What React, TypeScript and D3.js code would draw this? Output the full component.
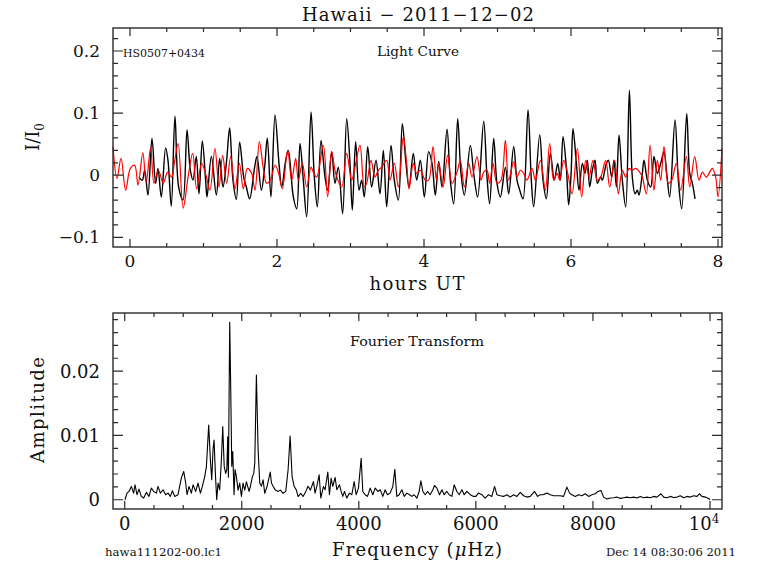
import React from "react";
import * as d3 from "d3";

const FONT = "'DejaVu Serif', 'Liberation Serif', serif";

// ---- Light curve (hours UT, I/I0) ----
const blackCurve: [number, number][] = [
  [0.122, -0.003], [0.168, -0.008], [0.2, 0.008], [0.245, -0.032], [0.299, 0.059], [0.349, -0.013], [0.381, 0.011],
  [0.426, -0.035], [0.485, 0.044], [0.517, 0.024], [0.562, -0.05], [0.612, 0.095], [0.662, -0.019], [0.721, -0.04],
  [0.776, 0.073], [0.821, 0.008], [0.857, -0.008], [0.902, 0.03], [0.939, -0.03], [0.984, 0.055], [1.029, -0.008],
  [1.048, -0.035], [1.107, 0.03], [1.175, -0.032], [1.22, 0.027], [1.265, -0.019], [1.311, 0.019], [1.356, 0.076],
  [1.401, -0.008], [1.447, -0.039], [1.492, 0.053], [1.547, -0.003], [1.583, -0.019], [1.628, -0.038], [1.696, 0.013],
  [1.728, 0.03], [1.787, -0.024], [1.832, 0.013], [1.868, 0.06],
  [1.918, -0.035], [1.973, 0.097], [2.027, 0.019], [2.064, -0.019], [2.118, 0.024], [2.154, 0.04], [2.222, -0.035],
  [2.268, -0.054], [2.313, 0.051], [2.358, -0.008], [2.404, -0.067], [2.463, 0.102], [2.508, -0.003], [2.549, -0.051],
  [2.599, 0.056], [2.653, -0.003], [2.689, -0.024], [2.744, 0.038], [2.789, -0.013], [2.834, 0.013], [2.893, -0.062],
  [2.948, 0.091], [2.993, 0.019], [3.025, -0.056], [3.07, 0.054], [3.116, -0.024], [3.152, -0.008], [3.188, -0.035],
  [3.234, 0.046], [3.288, -0.019], [3.347, 0.024], [3.401, -0.03], [3.447, 0.04], [3.492, -0.051], [3.551, 0.048],
  [3.596, -0.008], [3.651, -0.04], [3.705, 0.083], [3.751, 0.024], [3.796, -0.019], [3.855, 0.035], [3.9, -0.008],
  [3.95, 0.024], [4.005, -0.035], [4.063, 0.038], [4.109, 0.019], [4.154, -0.032], [4.2, 0.022], [4.245, -0.019],
  [4.313, 0.074], [4.358, -0.008], [4.404, -0.046], [4.458, 0.091], [4.503, 0.003], [4.549, -0.032], [4.63, 0.048],
  [4.676, 0.003], [4.73, -0.035], [4.812, 0.087], [4.857, -0.003], [4.893, -0.046], [4.948, 0.059], [4.993, -0.013],
  [5.039, -0.035], [5.107, 0.013], [5.152, -0.03], [5.22, 0.046], [5.265, -0.008], [5.302, -0.024], [5.347, -0.038],
  [5.415, 0.105], [5.46, -0.008], [5.492, -0.051], [5.574, 0.065], [5.619, -0.008], [5.664, -0.038], [5.719, 0.035],
  [5.773, -0.008], [5.819, 0.019], [5.855, -0.008], [5.891, 0.062], [5.936, 0.013], [5.968, -0.048], [6.0, 0.0],
  [6.027, 0.075], [6.073, 0.019], [6.109, -0.024], [6.154, 0.019], [6.19, 0.003], [6.222, 0.024], [6.254, -0.019],
  [6.29, 0.008], [6.327, 0.024], [6.358, -0.013], [6.404, -0.003], [6.426, -0.008], [6.481, 0.019], [6.508, 0.024],
  [6.553, -0.003], [6.585, 0.024], [6.617, -0.019], [6.653, 0.065], [6.698, -0.008], [6.744, -0.051], [6.794, 0.137],
  [6.834, -0.003], [6.871, -0.03], [6.902, -0.024], [6.925, -0.032], [6.97, 0.003], [6.993, 0.024], [7.039, -0.008],
  [7.084, -0.019], [7.129, 0.03], [7.175, 0.003], [7.22, 0.019], [7.265, 0.038], [7.302, 0.003], [7.342, -0.035],
  [7.415, 0.089], [7.46, -0.008], [7.506, -0.054], [7.574, 0.099], [7.615, 0.003], [7.651, -0.013], [7.687, -0.038],
];

const redCurve: [number, number][] = [
  [-0.231, 0.046], [-0.177, -0.005], [-0.122, 0.027], [-0.059, -0.024], [0.005, 0.011], [0.064, 0.016], [0.109, -0.016],
  [0.175, 0.036], [0.22, -0.012], [0.281, 0.044], [0.327, -0.013], [0.386, 0.008], [0.453, -0.013], [0.512, 0.005],
  [0.567, -0.003], [0.603, 0.019], [0.655, 0.051], [0.723, -0.053], [0.794, 0.0], [0.853, 0.035], [0.907, -0.022],
  [0.975, 0.019], [1.034, 0.0], [1.088, -0.024], [1.156, 0.043], [1.211, -0.019], [1.261, 0.032], [1.315, -0.013],
  [1.37, 0.03], [1.429, -0.022], [1.488, 0.019], [1.542, -0.022], [1.596, 0.011], [1.655, 0.003], [1.701, -0.024],
  [1.76, 0.054], [1.814, 0.011], [1.859, -0.013],
  [1.909, -0.008], [1.973, 0.016], [2.018, 0.005], [2.073, -0.022], [2.145, 0.04], [2.2, -0.008], [2.254, 0.027],
  [2.29, -0.008], [2.345, 0.019], [2.404, -0.019], [2.463, 0.013], [2.494, 0.005], [2.54, -0.003], [2.63, 0.048],
  [2.689, -0.035], [2.744, 0.038], [2.798, 0.003], [2.88, -0.019], [2.948, 0.035], [3.016, -0.008], [3.061, 0.013],
  [3.129, 0.048], [3.188, -0.019], [3.22, -0.013], [3.279, 0.024], [3.333, -0.003], [3.379, 0.008], [3.424, 0.013],
  [3.492, 0.024], [3.537, -0.008], [3.596, 0.019], [3.651, -0.019], [3.719, 0.062], [3.764, 0.019], [3.796, -0.022],
  [3.855, 0.019], [3.9, 0.003],
  [3.95, 0.008], [4.018, -0.008], [4.063, -0.008], [4.122, 0.046], [4.168, -0.008], [4.2, 0.019], [4.259, -0.019],
  [4.322, 0.032], [4.381, -0.013], [4.449, 0.005], [4.494, 0.024], [4.549, -0.019], [4.608, 0.019], [4.653, -0.003],
  [4.721, 0.03], [4.776, -0.008], [4.812, 0.005], [4.857, 0.008], [4.893, -0.013], [4.939, 0.019], [4.993, -0.013],
  [5.048, -0.008], [5.107, 0.056], [5.152, -0.008], [5.22, 0.022], [5.265, -0.003], [5.311, 0.008], [5.356, 0.003],
  [5.401, -0.008], [5.469, 0.011], [5.515, -0.008], [5.583, 0.024], [5.651, -0.024], [5.71, 0.051], [5.764, -0.008],
  [5.81, 0.003], [5.846, -0.008], [5.9, 0.024], [5.955, 0.003], [6.014, -0.03],
  [6.086, 0.043], [6.145, -0.035], [6.2, 0.024], [6.245, -0.003], [6.299, 0.024], [6.358, -0.008], [6.404, -0.003],
  [6.472, 0.024], [6.526, -0.019], [6.594, 0.024], [6.644, -0.03], [6.698, 0.008], [6.744, -0.003], [6.789, 0.011],
  [6.834, 0.008], [6.88, 0.011], [6.934, 0.005], [6.97, -0.003], [7.025, -0.03], [7.075, 0.048], [7.129, -0.024],
  [7.175, 0.024], [7.22, -0.008], [7.265, 0.046], [7.324, -0.013], [7.37, -0.008], [7.433, 0.019], [7.492, -0.024],
  [7.569, 0.03], [7.615, -0.019], [7.683, 0.03], [7.741, -0.008], [7.787, 0.005], [7.841, -0.003], [7.9, 0.008],
  [7.923, 0.011], [7.968, -0.003], [8.0, -0.035], [8.054, 0.043],
];

// ---- Fourier transform (frequency µHz, amplitude) ----
const spectrum: [number, number][] = [
  [5, 0], [39, 0.00103], [74, 0.00129], [113, 0.00207], [153, 0.00103], [176, 0.00233], [210, 0.00078], [244, 0.00165],
  [284, 0.00052], [324, 0.00026], [370, 0.00114], [415, 0.00052], [455, 0.00181], [495, 0.00129], [541, 0.00103],
  [569, 0.00207], [609, 0.00103], [655, 0.00155], [700, 0.00078], [740, 0.00103], [780, 0.00052], [815, 0.0014],
  [854, 0.00052], [911, 0.00078], [968, 0.0034], [1008, 0.0044], [1042, 0.0026], [1065, 0.00078], [1099, 0.00207],
  [1139, 0.00103], [1168, 0.00233], [1213, 0.00129], [1253, 0.0026], [1293, 0.00103], [1327, 0.00207], [1367, 0.0036],
  [1396, 0.0052], [1435, 0.0116], [1464, 0.0062], [1487, 0.0031], [1509, 0.0078], [1527, 0.0093], [1549, 0.0041],
  [1572, 0.0], [1595, 0.0026], [1623, 0.00155], [1652, 0.0062], [1675, 0.0114], [1700, 0.0052], [1725, 0.0041],
  [1745, 0.0047], [1760, 0.0098], [1772, 0.0035], [1794, 0.0276], [1811, 0.0176], [1829, 0.0052], [1846, 0.0075],
  [1868, 0.00078], [1885, 0.0047], [1908, 0.0036], [1937, 0.0015], [1965, 0.0026], [1994, 0.00052], [2022, 0.0026],
  [2051, 0.0015], [2079, 0.0028], [2125, 0.0013], [2148, 0.0021], [2182, 0.0036], [2205, 0.0041], [2222, 0.0057],
  [2250, 0.0194], [2279, 0.0078], [2307, 0.0026], [2336, 0.0021], [2364, 0.0031], [2393, 0.001], [2433, 0.0021],
  [2487, 0.0043], [2507, 0.0026], [2535, 0.0021], [2575, 0.0015], [2621, 0.0013], [2661, 0.0015], [2706, 0.001],
  [2752, 0.0013], [2792, 0.0047], [2826, 0.0099], [2860, 0.0036], [2894, 0.0021], [2934, 0.0015], [2962, 0.0005],
  [3008, 0.001], [3048, 0.0005], [3094, 0.0013], [3133, 0.0021], [3173, 0.0015], [3225, 0.00284], [3253, 0.00103],
  [3282, 0.00207], [3322, 0.00388], [3350, 0.00026], [3396, 0.00207], [3424, 0.00155], [3470, 0.00429], [3498, 0.00078],
  [3527, 0.00336], [3555, 0.00207], [3595, 0.00346], [3624, 0.00155], [3669, 0.00233], [3698, 0.00129], [3726, 0.00052],
  [3755, 0.00129], [3795, 0.00026], [3840, 0.00103], [3880, 0.00078], [3920, 0.00284], [3954, 0.00078], [3994, 0.00181],
  [4040, 0.00646], [4068, 0.00129], [4108, 0.00078], [4148, 0.00052], [4194, 0.00181], [4239, 0.00078], [4279, 0.00181],
  [4325, 0.00129], [4365, 0.00155], [4410, 0.00052], [4450, 0.00155], [4490, 0.00078], [4535, 0.00103], [4581, 0.00207],
  [4615, 0.00475], [4649, 0.00052], [4689, 0.00078], [4735, 0.00155], [4775, 0.00052], [4820, 0.00103], [4866, 0.00078],
  [4906, 0.00052], [4946, 0.00078], [4991, 0.00026], [5031, 0.00129], [5060, 0.00295], [5094, 0.00129], [5134, 0.00078],
  [5174, 0.00129], [5219, 0.00078], [5265, 0.00155], [5293, 0.00222], [5333, 0.00181], [5379, 0.00078], [5419, 0.00155],
  [5458, 0.00078], [5504, 0.00129], [5544, 0.00078], [5590, 0.00052], [5629, 0.00233], [5675, 0.00129], [5715, 0.00078],
  [5761, 0.00155], [5800, 0.00078], [5846, 0.00129], [5903, 0.00078], [5960, 0.00052], [6000, 0.00052], [6045, 0.00103],
  [6102, 0.00078], [6159, 0.00026], [6216, 0.00078], [6273, 0.00052], [6319, 0.00207], [6359, 0.00078], [6416, 0.00062],
  [6473, 0.00052], [6530, 0.00078], [6587, 0.00041], [6644, 0.00078], [6701, 0.00052], [6758, 0.00114], [6815, 0.00062],
  [6872, 0.00041], [6929, 0.00052], [7003, 0.00129], [7054, 0.00052], [7100, 0.00078], [7145, 0.00078], [7213, 0.00103],
  [7271, 0.00078], [7327, 0.00062], [7384, 0.00062], [7441, 0.00062], [7498, 0.00052], [7555, 0.00196], [7601, 0.00103],
  [7641, 0.00078], [7698, 0.00052], [7755, 0.00078], [7812, 0.00062], [7869, 0.00093], [7926, 0.00052], [7983, 0.00078],
  [8040, 0.00093], [8085, 0.00129], [8137, 0.00145], [8182, 0.00041], [8239, 0.0001], [8296, 0.00026], [8353, 0.00031],
  [8410, 0.00041], [8467, 0.00021], [8524, 0.00031], [8581, 0.00041], [8638, 0.00031], [8695, 0.00041], [8752, 0.00026],
  [8809, 0.00052], [8866, 0.00031], [8923, 0.00041], [8980, 0.00031], [9037, 0.00052], [9094, 0.00041], [9162, 0.00093],
  [9208, 0.00041], [9265, 0.00031], [9322, 0.00052], [9379, 0.00036], [9436, 0.00041], [9493, 0.00062], [9550, 0.00031],
  [9607, 0.00052], [9664, 0.00041], [9721, 0.00062], [9778, 0.00052], [9818, 0.00093], [9863, 0.00052], [9920, 0.00041],
  [9977, 0.00021], [10000, 0],
];

// ---- ticks ----
const lcXMajor = [0, 2, 4, 6, 8];
const lcXLabels = ["0", "2", "4", "6", "8"];
const lcYMajor = [-0.1, 0, 0.1, 0.2];
const lcYLabels = ["\u22120.1", "0", "0.1", "0.2"];
const ftXMajor = [0, 2000, 4000, 6000, 8000, 10000];
const ftXLabels = ["0", "2000", "4000", "6000", "8000", "10^4"];
const ftYMajor = [0, 0.01, 0.02];
const ftYLabels = ["0", "0.01", "0.02"];

const FRAME = "#2a2a2a";

type Sc = d3.ScaleLinear<number, number>;

function Frame({ x, y, xMinor, yMinor, xMajor, yMajor }: { x: Sc; y: Sc; xMinor: number[]; yMinor: number[]; xMajor: number[]; yMajor: number[] }) {
  const [x0, x1] = x.range();
  const [y0, y1] = y.range();
  const inX = (v: number) => v >= Math.min(...x.domain()) && v <= Math.max(...x.domain());
  const inY = (v: number) => v >= Math.min(...y.domain()) && v <= Math.max(...y.domain());
  const segs: string[] = [];
  xMinor.filter(inX).forEach((v) => {
    const px = x(v);
    const len = xMajor.some((m) => Math.abs(m - v) < 1e-9) ? 8 : 4;
    segs.push(`M${px},${y0}V${y0 - len}M${px},${y1}V${y1 + len}`);
  });
  yMinor.filter(inY).forEach((v) => {
    const py = y(v);
    const len = yMajor.some((m) => Math.abs(m - v) < 1e-9) ? 10 : 5;
    segs.push(`M${x0},${py}H${x0 + len}M${x1},${py}H${x1 - len}`);
  });
  return (
    <g>
      <path d={segs.join("")} stroke={FRAME} strokeWidth={1.2} fill="none" />
      <rect x={x0} y={y1} width={x1 - x0} height={y0 - y1} fill="none" stroke={FRAME} strokeWidth={1.4} />
    </g>
  );
}

export default function App() {
  const lcX = d3.scaleLinear().domain([-0.231, 8.054]).range([113, 722]);
  const lcY = d3.scaleLinear().domain([-0.1156, 0.237]).range([247, 28]);
  const ftX = d3.scaleLinear().domain([-200, 10205]).range([113, 722]);
  const ftY = d3.scaleLinear().domain([-0.00144, 0.02904]).range([509, 313]);

  const lcLine = d3
    .line<[number, number]>()
    .x((d) => lcX(d[0]))
    .y((d) => lcY(d[1]))
    .curve(d3.curveCatmullRom.alpha(0.5));
  const ftLine = d3.line<[number, number]>().x((d) => ftX(d[0])).y((d) => ftY(d[1]));

  const lcXMinor = d3.range(0, 8.01, 0.5);
  const lcYMinor = d3.range(-0.1, 0.2201, 0.02).map((v) => Math.round(v * 1000) / 1000);
  const ftXMinor = d3.range(0, 10001, 500);
  const ftYMinor = d3.range(0, 0.0281, 0.002).map((v) => Math.round(v * 10000) / 10000);

  const txt = { fontFamily: FONT, fill: "#111" } as const;

  return (
    <svg width={768} height={574} style={{ position: "absolute", left: 0, top: 0, background: "#fff" }}>
      <rect width={768} height={574} fill="#fff" />
      <text x={418} y={21} textAnchor="middle" fontSize={18} textLength={232} lengthAdjust="spacing" {...txt}>
        Hawaii {"\u2212"} 2011{"\u2212"}12{"\u2212"}02
      </text>

      {/* ---------- Light curve panel ---------- */}
      <path d={lcLine(blackCurve) || ""} fill="none" stroke="#000" strokeWidth={1.4} strokeLinejoin="round" />
      <path d={lcLine(redCurve) || ""} fill="none" stroke="#ff0000" strokeWidth={1.2} strokeLinejoin="round" />
      <Frame x={lcX} y={lcY} xMinor={lcXMinor} yMinor={lcYMinor} xMajor={lcXMajor} yMajor={lcYMajor} />
      {lcXMajor.map((v, i) => (
        <text key={"lx" + i} x={lcX(v)} y={267} textAnchor="middle" fontSize={17} {...txt}>{lcXLabels[i]}</text>
      ))}
      {lcYMajor.map((v, i) => (
        <text key={"ly" + i} x={100} y={lcY(v) + 6} textAnchor="end" fontSize={17} {...txt}>{lcYLabels[i]}</text>
      ))}
      <text x={123} y={57} fontSize={11} textLength={82} lengthAdjust="spacingAndGlyphs" {...txt}>HS0507+0434</text>
      <text x={377} y={56} fontSize={12.5} textLength={82} lengthAdjust="spacingAndGlyphs" {...txt}>Light Curve</text>
      <text x={417} y={290} textAnchor="middle" fontSize={18} textLength={95} lengthAdjust="spacing" {...txt}>hours UT</text>
      <text transform="translate(39,137) rotate(-90)" textAnchor="middle" fontSize={18} {...txt}>
        I/I<tspan fontSize={12} dy={5}>0</tspan>
      </text>

      {/* ---------- Fourier transform panel ---------- */}
      <path d={ftLine(spectrum) || ""} fill="none" stroke="#000" strokeWidth={1.1} strokeLinejoin="round" />
      <Frame x={ftX} y={ftY} xMinor={ftXMinor} yMinor={ftYMinor} xMajor={ftXMajor} yMajor={ftYMajor} />
      {ftXMajor.map((v, i) =>
        ftXLabels[i] === "10^4" ? (
          <text key={"fx" + i} x={ftX(v) - 6} y={530} textAnchor="middle" fontSize={18} {...txt}>
            10<tspan fontSize={12} dy={-7}>4</tspan>
          </text>
        ) : (
          <text key={"fx" + i} x={ftX(v)} y={530} textAnchor="middle" fontSize={18} {...txt}>{ftXLabels[i]}</text>
        )
      )}
      {ftYMajor.map((v, i) => (
        <text key={"fy" + i} x={100} y={ftY(v) + 6.5} textAnchor="end" fontSize={18} {...txt}>{ftYLabels[i]}</text>
      ))}
      <text x={350} y={346} fontSize={12.5} textLength={134} lengthAdjust="spacingAndGlyphs" {...txt}>Fourier Transform</text>
      <text x={417} y={556} textAnchor="middle" fontSize={18} textLength={170} lengthAdjust="spacing" {...txt}>
        Frequency (<tspan fontStyle="italic">{"\u03BC"}</tspan>Hz)
      </text>
      <text transform="translate(44,410) rotate(-90)" textAnchor="middle" fontSize={18} textLength={106} lengthAdjust="spacing" {...txt}>
        Amplitude
      </text>
      <text x={105} y={556} fontSize={10.5} textLength={117} lengthAdjust="spacingAndGlyphs" {...txt}>hawa111202-00.lc1</text>
      <text x={606} y={556} fontSize={10.5} textLength={130} lengthAdjust="spacingAndGlyphs" {...txt}>Dec 14 08:30:06 2011</text>
    </svg>
  );
}
